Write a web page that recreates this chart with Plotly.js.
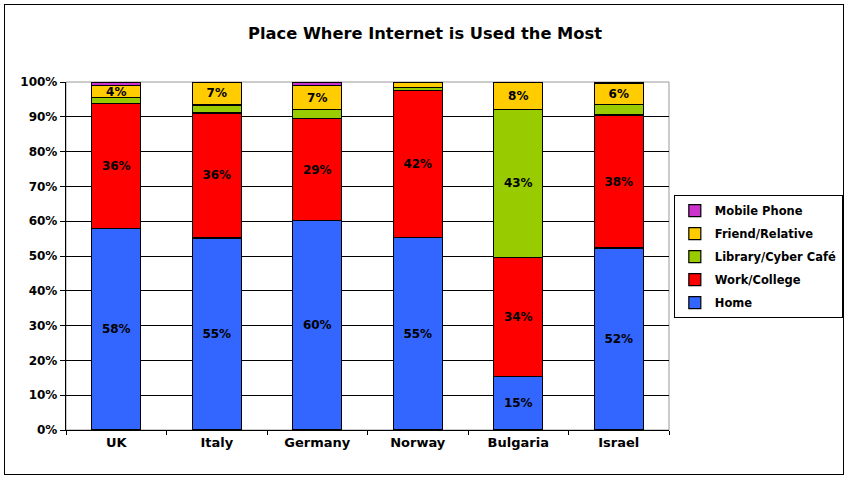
<!DOCTYPE html>
<html>
<head>
<meta charset="utf-8">
<script src="https://cdn.plot.ly/plotly-3.0.1.min.js"></script>
<style>
  html, body { margin: 0; padding: 0; background: #fff; }
  #frame { position: absolute; left: 4px; top: 4px; width: 838px; height: 469px; border: 1px solid #000; }
  #chart { position: absolute; left: 0; top: 0; width: 850px; height: 479px; }
</style>
</head>
<body>
<div id="frame"></div>
<div id="chart"></div>
<script>
const countries = ["UK", "Italy", "Germany", "Norway", "Bulgaria", "Israel"];
const home     = [58.0, 55.2, 60.1, 55.3, 15.4, 52.3];
const work     = [35.9, 35.9, 29.4, 42.2, 34.2, 38.2];
const library  = [1.6, 2.3, 2.5, 1.0, 42.6, 3.0];
const friend   = [3.5, 6.6, 7.0, 1.5, 7.8, 6.0];
const mobile   = [1.0, 0.0, 1.0, 0.0, 0.0, 0.5];

const seriesNames  = ["Home", "Work/College", "Library/Cyber Café", "Friend/Relative", "Mobile Phone"];
const seriesValues = [home, work, library, friend, mobile];
const seriesColors = ["#3366FF", "#FF0000", "#99CC00", "#FFCC00", "#CC33CC"];
const yTickVals = [0, 10, 20, 30, 40, 50, 60, 70, 80, 90, 100];
const yTickText = ["0%", "10%", "20%", "30%", "40%", "50%", "60%", "70%", "80%", "90%", "100%"];

const FONT = "DejaVu Sans, Verdana, sans-serif";

const traces = seriesNames.map((name, i) => ({
  type: "bar",
  name: name,
  x: countries,
  y: seriesValues[i],
  legendgroup: name,
  legendrank: seriesNames.length - i,
  marker: { color: seriesColors[i], line: { color: "#000", width: 1.2 } },
  text: seriesValues[i].map(v => v >= 3.5 ? Math.round(v) + "%" : ""),
  textposition: "inside",
  insidetextanchor: "middle",
  textangle: 0,
  constraintext: "none",
  textfont: { family: FONT, size: 12, color: "#000", weight: "bold" },
  hoverinfo: "name+y"
}));

const layout = {
  width: 850, height: 479,
  paper_bgcolor: "rgba(0,0,0,0)",
  plot_bgcolor: "#fff",
  barmode: "stack",
  bargap: 0.51,
  margin: { l: 66, r: 181, t: 82, b: 49, autoexpand: false },
  font: { family: FONT, color: "#000", weight: "bold" },
  title: {
    text: "<b>Place Where Internet is Used the Most</b>",
    x: 0.5, xref: "container", xanchor: "center",
    y: 0.931, yref: "container", yanchor: "middle",
    font: { size: 16.3, family: FONT, color: "#000" }
  },
  xaxis: {
    type: "category",
    showline: true, linecolor: "#000", linewidth: 1.2,
    ticks: "outside", tickson: "boundaries", ticklen: 4, tickcolor: "#000",
    showgrid: false,
    tickfont: { size: 13, family: FONT, color: "#000", weight: "bold" }
  },
  yaxis: {
    range: [0, 100],
    tickvals: yTickVals, ticktext: yTickText,
    showline: true, linecolor: "#000", linewidth: 1.2,
    ticks: "outside", ticklen: 5, tickcolor: "#000",
    showgrid: true, gridcolor: "#000", gridwidth: 1,
    zeroline: false,
    tickfont: { size: 12, family: FONT, color: "#000", weight: "bold" }
  },
  shapes: [{
    type: "rect", xref: "paper", yref: "paper", x0: 0, x1: 1, y0: 0, y1: 1,
    line: { color: "#999", width: 1 }, layer: "below"
  }],
  legend: {
    traceorder: "grouped",
    tracegroupgap: 4,
    x: 1.008, xanchor: "left",
    y: 0.675, yanchor: "top",
    bgcolor: "#fff", bordercolor: "#000", borderwidth: 1,
    font: { size: 11.5, family: FONT, color: "#000", weight: "bold" },
    itemwidth: 30
  },
  showlegend: true
};

Plotly.newPlot("chart", traces, layout, { displayModeBar: false, staticPlot: true });
</script>
</body>
</html>
